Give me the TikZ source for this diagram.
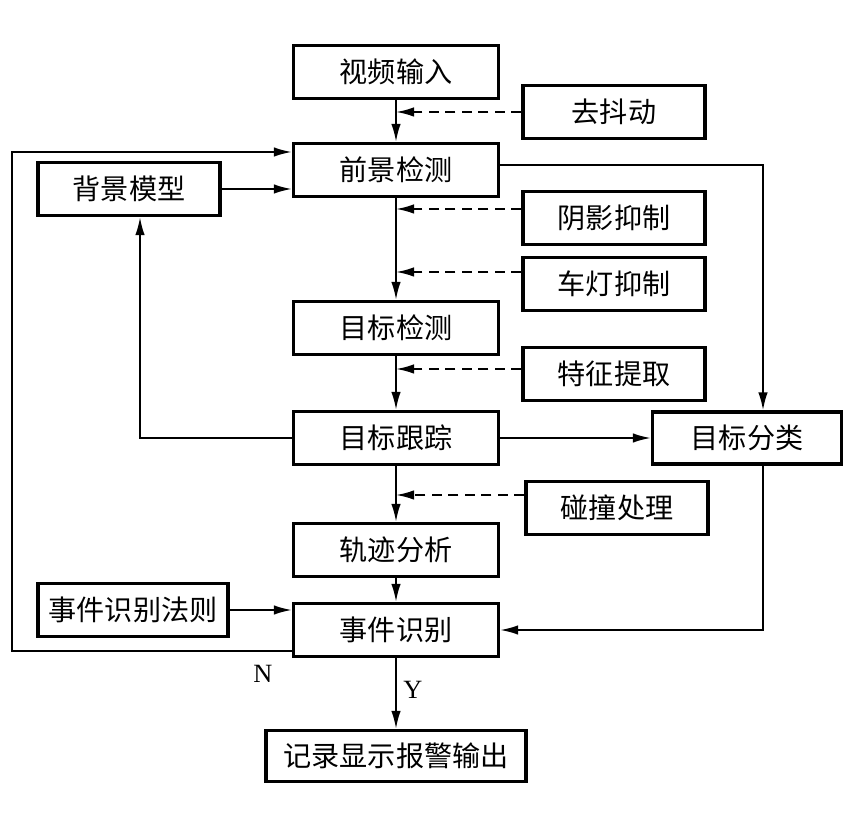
\documentclass[tikz,border=0pt]{standalone}
\usepackage{fontspec}
\setmainfont{Liberation Serif}
\newfontfamily\cjk{Noto Sans CJK SC}
\usetikzlibrary{arrows.meta,calc}
\tikzstyle{box}=[rectangle, draw=black, line width=1.9pt, minimum width=4.1cm, minimum height=1.06cm, inner sep=0pt, font=\cjk\fontsize{16}{19}\selectfont, anchor=center]
\tikzstyle{side}=[box, minimum width=3.64cm]
\tikzstyle{flow}=[line width=1.1pt, -{Latex[length=0.36cm,width=0.19cm]}]
\tikzstyle{hint}=[flow, dash pattern=on 0.2cm off 0.13cm]
\tikzstyle{annot}=[font=\fontsize{15}{18}\selectfont]
\begin{document}
\begin{tikzpicture}[x=0.02cm, y=-0.02cm]
	\useasboundingbox (0,0) rectangle (855,837);

	% main column
	\node[box](video) at (396,72){视频输入};
	\node[box](fg) at (396,170){前景检测};
	\node[box](objdet) at (396,328){目标检测};
	\node[box](track) at (396,438){目标跟踪};
	\node[box](traj) at (396,550){轨迹分析};
	\node[box](event) at (396,630){事件识别};
	\node[box, minimum width=5.2cm, minimum height=1.02cm](output) at (396,756){记录显示报警输出};

	% side boxes
	\node[side](jitter) at (614,112){去抖动};
	\node[side](shadow) at (614,218){阴影抑制};
	\node[side](light) at (614,284){车灯抑制};
	\node[side](feature) at (614,374){特征提取};
	\node[side](collide) at (617,508){碰撞处理};
	\node[side, minimum width=3.78cm, minimum height=1.04cm](classify) at (747,438){目标分类};
	\node[side](bgmodel) at (129,189){背景模型};
	\node[side, minimum width=3.8cm](rules) at (133,610){事件识别法则};

	% main flow
	\draw[flow] (video) -- (fg);
	\draw[flow] (fg) -- (objdet);
	\draw[flow] (objdet) -- (track);
	\draw[flow] (track) -- (traj);
	\draw[flow] (traj) -- (event);
	\draw[flow] (event) -- (output);

	% dashed helpers
	\coordinate (j1) at (jitter.west);
	\coordinate (s1) at ($(shadow.west)+(0,-9)$);
	\coordinate (l1) at ($(light.west)+(0,-12)$);
	\coordinate (f1) at ($(feature.west)+(0,-5)$);
	\coordinate (c1) at ($(collide.west)+(0,-13)$);
	\draw[hint] (j1) -- (j1 -| video.south);
	\draw[hint] (s1) -- (s1 -| fg.south);
	\draw[hint] (l1) -- (l1 -| fg.south);
	\draw[hint] (f1) -- (f1 -| objdet.south);
	\draw[hint] (c1) -- (c1 -| track.south);

	% background model
	\coordinate (bgin) at ($(bgmodel.south)+(11,0)$);
	\draw[flow] (bgmodel.east) -- (bgmodel.east -| fg.west);
	\draw[flow] (track.west) -| (bgin);

	% classification
	\coordinate (fgout) at ($(fg.east)+(0,-5)$);
	\coordinate (clsin) at ($(classify.north)+(16,0)$);
	\coordinate (clsout) at ($(classify.south)+(16,0)$);
	\draw[flow] (track.east) -- (classify.west);
	\draw[flow] (fgout) -| (clsin);
	\draw[flow] (clsout) |- (event.east);

	% event rules and loop back
	\draw[flow] (rules.east) -- (rules.east -| event.west);
	\coordinate (loopout) at ($(event.west)+(0,21)$);
	\coordinate (loopin) at ($(fg.west)+(0,-18)$);
	\coordinate (loopcorner) at (12,651);
	\draw[flow] (loopout) -- (loopcorner) |- (loopin);

	\node[annot](labN) at (263,674){N};
	\node[annot](labY) at (413,690){Y};
\end{tikzpicture}
\end{document}
